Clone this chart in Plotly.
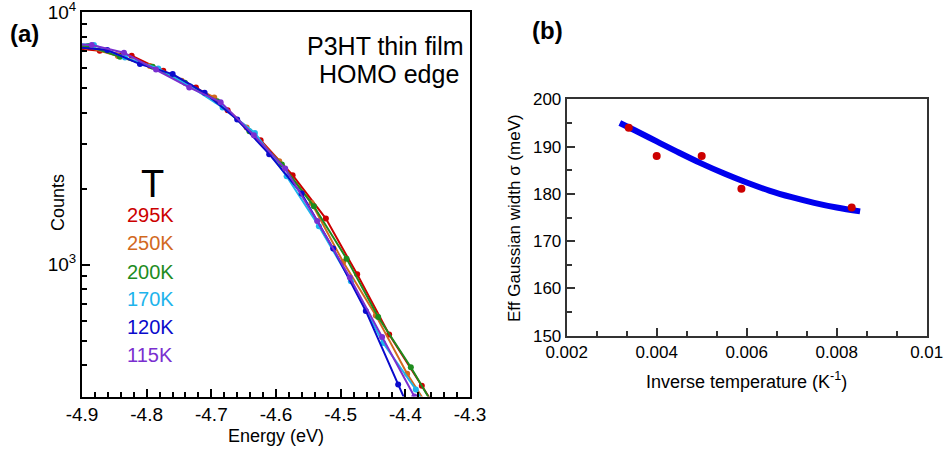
import plotly.graph_objects as go

# ---------------- Panel (a) data: Counts vs Energy ----------------
temps_a = ["295K", "250K", "200K", "170K", "120K", "115K"]
colors_a = ["#cc0000", "#d2691e", "#1e8c1e", "#1eb4ec", "#0a0acc", "#7a2fd0"]

e_295 = [-4.9232, -4.8726, -4.8232, -4.7743, -4.7238, -4.6748, -4.6238, -4.5743, -4.5229, -4.4745, -4.4250, -4.3745, -4.3245]
c_295 = [7250, 7040, 6726, 5866, 5040, 4096, 3114, 2262, 1522, 915, 528, 331, 208]

e_250 = [-4.9439, -4.8938, -4.8444, -4.7949, -4.7459, -4.6955, -4.6454, -4.5950, -4.5450, -4.4961, -4.4456, -4.3972, -4.3471]
c_250 = [7482, 7304, 6707, 6122, 5354, 4599, 3498, 2570, 1755, 1024, 629, 369, 232]

e_200 = [-4.9402, -4.8903, -4.8413, -4.7907, -4.7408, -4.6909, -4.6411, -4.5909, -4.5414, -4.4909, -4.4420, -4.3915, -4.3420]
c_200 = [7482, 7349, 6664, 6083, 5256, 4446, 3381, 2494, 1703, 1056, 620, 392, 239]

e_170 = [-4.9309, -4.8815, -4.8335, -4.7821, -4.7331, -4.6826, -4.6326, -4.5836, -4.5337, -4.4842, -4.4343, -4.3838, -4.3343]
c_170 = [7554, 7418, 6628, 5995, 5099, 4198, 3328, 2241, 1419, 859, 489, 320, 195]

e_120 = [-4.9108, -4.8609, -4.8104, -4.7598, -4.7104, -4.6600, -4.6105, -4.5604, -4.5116, -4.4611, -4.4111, -4.3611]
c_120 = [7283, 7087, 6234, 5690, 4797, 3762, 2740, 1912, 1157, 655, 335, 172]

e_115 = [-4.9349, -4.8850, -4.8351, -4.7856, -4.7342, -4.6856, -4.6342, -4.5858, -4.5363, -4.4858, -4.4359, -4.3860]
c_115 = [7554, 7418, 6914, 5939, 5040, 4406, 3260, 2404, 1489, 888, 516, 300]

energies = [e_295, e_250, e_200, e_170, e_120, e_115]
counts = [c_295, c_250, c_200, c_170, c_120, c_115]

x_ticks_a = [-4.9, -4.8, -4.7, -4.6, -4.5, -4.4, -4.3]
x_ticklabels_a = ["-4.9", "-4.8", "-4.7", "-4.6", "-4.5", "-4.4", "-4.3"]
y_ticks_a = [1000, 10000]
y_ticklabels_a = ["10<sup>3</sup>", "10<sup>4</sup>"]
y_minor_a = [400, 500, 600, 700, 800, 900, 2000, 3000, 4000, 5000, 6000, 7000, 8000, 9000]

# ---------------- Panel (b) data: sigma vs 1/T ----------------
inv_T = [1 / 296, 1 / 250, 1 / 200, 1 / 170, 1 / 120]
sigma = [194.0, 188.0, 188.0, 181.1, 177.1]

fit_x = [0.00318, 0.0035, 0.004, 0.0045, 0.005, 0.0055, 0.006, 0.0065, 0.007, 0.0075, 0.008, 0.00852]
fit_y = [195.0, 193.5, 191.1, 188.7, 186.4, 184.3, 182.4, 180.7, 179.3, 178.1, 177.1, 176.3]

x_ticks_b = [0.002, 0.004, 0.006, 0.008, 0.01]
x_ticklabels_b = ["0.002", "0.004", "0.006", "0.008", "0.01"]
y_ticks_b = [150, 160, 170, 180, 190, 200]

W, H = 944, 457
FONT = "Liberation Sans Narrow, Arial Narrow, Liberation Sans, Arial, sans-serif"


def px(x):
    return x / W


def py(y):
    return 1 - y / H


fig = go.Figure()

for e, c, col, name in zip(energies, counts, colors_a, temps_a):
    fig.add_trace(go.Scatter(
        x=e, y=c, mode="lines+markers", name=name,
        line=dict(color=col, width=2),
        marker=dict(color=col, size=6),
        xaxis="x", yaxis="y", showlegend=False,
    ))

fig.add_trace(go.Scatter(
    x=fit_x, y=fit_y, mode="lines", line=dict(color="#0000ee", width=6, shape="spline"),
    xaxis="x2", yaxis="y2", showlegend=False,
))
fig.add_trace(go.Scatter(
    x=inv_T, y=sigma, mode="markers", marker=dict(color="#cc0000", size=8),
    xaxis="x2", yaxis="y2", showlegend=False,
))

base = dict(showgrid=False, zeroline=False, showline=True, mirror=True,
            ticks="inside", automargin=False, linewidth=2, tickwidth=2, ticklen=8,
            ticklabeloverflow="allow")

XA_DOM = [px(82), px(470)]
YA_DOM = [py(396.5), py(12.3)]
XB_DOM = [px(566.7), px(926.7)]
YB_DOM = [py(335.7), py(99.3)]
XA_RANGE = [-4.9, -4.3]
YA_RANGE = [2.4771, 4.0002]
XB_RANGE = [0.002, 0.01]
YB_RANGE = [150, 200]

minor_xa = dict(dtick=0.02, tick0=-4.9, ticks="inside", ticklen=5, tickwidth=2, tickcolor="black")
minor_ya = dict(tickvals=y_minor_a, ticks="inside", ticklen=5, tickwidth=2, tickcolor="black")
minor_xb = dict(dtick=0.002 / 3, tick0=0.002, ticks="inside", ticklen=5, tickwidth=2, tickcolor="#333333")
minor_yb = dict(dtick=5, tick0=150, ticks="inside", ticklen=5, tickwidth=2, tickcolor="#333333")

fig.update_layout(
    width=W, height=H,
    margin=dict(l=0, r=0, t=0, b=0),
    paper_bgcolor="white", plot_bgcolor="white",
    font=dict(family=FONT, color="black"),
    xaxis=dict(domain=XA_DOM, anchor="y", range=XA_RANGE,
               tickvals=x_ticks_a, ticktext=x_ticklabels_a,
               linecolor="black", tickcolor="black",
               tickfont=dict(size=19, family=FONT), minor=minor_xa, **base),
    yaxis=dict(domain=YA_DOM, anchor="x", type="log", range=YA_RANGE,
               tickvals=y_ticks_a, ticktext=y_ticklabels_a,
               linecolor="black", tickcolor="black",
               tickfont=dict(size=19, family=FONT), minor=minor_ya, **base),
    xaxis2=dict(domain=XB_DOM, anchor="y2", range=XB_RANGE,
                tickvals=x_ticks_b, ticktext=x_ticklabels_b,
                linecolor="#333333", tickcolor="#333333",
                tickfont=dict(size=17, family=FONT), minor=minor_xb, **base),
    yaxis2=dict(domain=YB_DOM, anchor="x2", range=YB_RANGE,
                tickvals=y_ticks_b,
                linecolor="#333333", tickcolor="#333333",
                tickfont=dict(size=17, family=FONT), minor=minor_yb, **base),
    # mirrored tick axes (top / right) so minor ticks appear on all four sides
    xaxis3=dict(domain=XA_DOM, anchor="y", overlaying="x", side="top", range=XA_RANGE,
                tickvals=x_ticks_a, showticklabels=False,
                linecolor="black", tickcolor="black", minor=minor_xa, **base),
    yaxis3=dict(domain=YA_DOM, anchor="x", overlaying="y", side="right", type="log", range=YA_RANGE,
                tickvals=y_ticks_a, showticklabels=False,
                linecolor="black", tickcolor="black", minor=minor_ya, **base),
    xaxis4=dict(domain=XB_DOM, anchor="y2", overlaying="x2", side="top", range=XB_RANGE,
                tickvals=x_ticks_b, showticklabels=False,
                linecolor="#333333", tickcolor="#333333", minor=minor_xb, **base),
    yaxis4=dict(domain=YB_DOM, anchor="x2", overlaying="y2", side="right", range=YB_RANGE,
                tickvals=y_ticks_b, showticklabels=False,
                linecolor="#333333", tickcolor="#333333", minor=minor_yb, **base),
)

ann = []


def add_text(x, y, text, size, color="black", xanchor="center", yanchor="middle", bold=False, angle=0):
    if bold:
        text = "<b>" + text + "</b>"
    ann.append(dict(
        x=px(x), y=py(y), xref="paper", yref="paper", text=text, showarrow=False,
        xanchor=xanchor, yanchor=yanchor, textangle=angle,
        font=dict(size=size, color=color, family=FONT),
    ))


add_text(24, 34, "(a)", 24, bold=True)
add_text(547, 31, "(b)", 24, bold=True)
add_text(466, 46, "P3HT thin film", 25, xanchor="right")
add_text(461, 74, "HOMO edge", 25, xanchor="right")
add_text(152, 184, "T", 38)
label_y = [215, 243.3, 271.7, 299, 327.3, 355]
for t, col, ly in zip(temps_a, colors_a, label_y):
    add_text(150, ly, t, 20, color=col)
add_text(276, 436, "Energy (eV)", 18)
add_text(58, 203, "Counts", 18, angle=-90)
add_text(746, 380, "Inverse temperature (K<sup>-1</sup>)", 18)
add_text(514, 218, "Eff Gaussian width σ (meV)", 17, angle=-90)

fig.update_layout(annotations=ann)

fig.write_html("out.html")
